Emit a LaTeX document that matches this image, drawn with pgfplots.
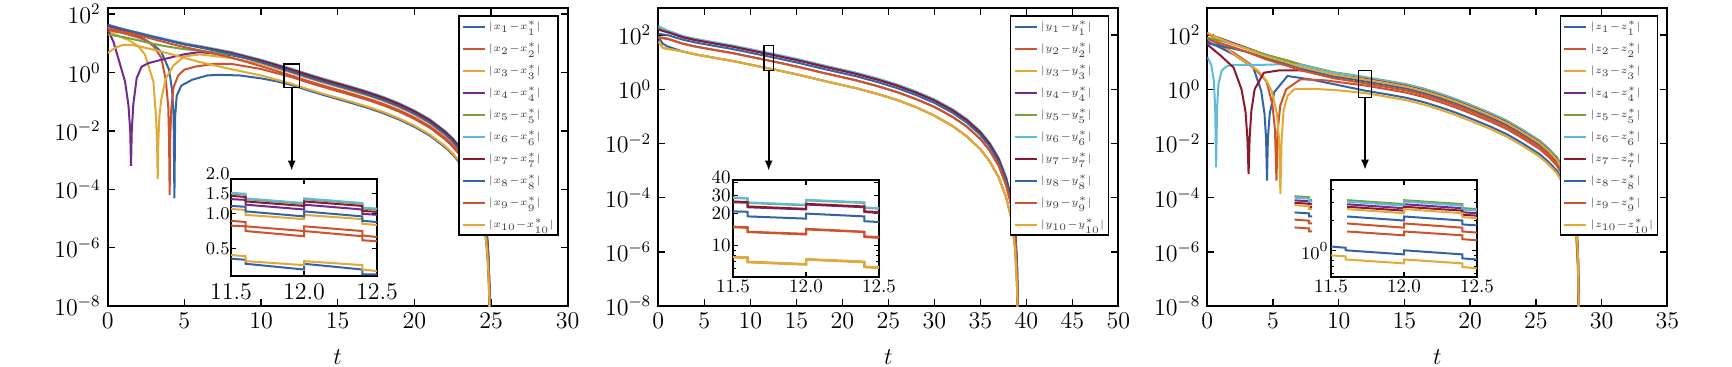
\documentclass[border=0pt]{standalone}
\usepackage{pgfplots}
\pgfplotsset{compat=1.18}
\usetikzlibrary{arrows.meta}
\definecolor{c1}{RGB}{50,100,165}
\definecolor{c2}{RGB}{205,82,45}
\definecolor{c3}{RGB}{228,168,52}
\definecolor{c4}{RGB}{115,42,140}
\definecolor{c5}{RGB}{112,165,60}
\definecolor{c6}{RGB}{95,185,225}
\definecolor{c7}{RGB}{140,25,45}
\pgfplotscreateplotcyclelist{mat}{
{c1,line width=1pt},{c2,line width=1pt},{c3,line width=1pt},{c4,line width=1pt},{c5,line width=1pt},{c6,line width=1pt},{c7,line width=1pt},{c1,line width=1pt},{c2,line width=1pt},{c3,line width=1pt}}
\pgfplotsset{legend image code/.code={\draw[#1] (0pt,0pt) -- (11pt,0pt);}}
\pgfplotsset{
 mainax/.style={scale only axis, width=230pt, height=149pt, anchor=south west, xmin=0, ymin=-8,
   axis line style={line width=0.9pt}, tick style={black, line width=0.7pt}, major tick length=3.5pt,
   tick align=inside, ticklabel style={font=\fontsize{12}{14}\selectfont},
   ytick={-8,-6,-4,-2,0,2}, yticklabels={$10^{-8}$,$10^{-6}$,$10^{-4}$,$10^{-2}$,$10^{0}$,$10^{2}$},
   xlabel={$t$}, xlabel style={font=\fontsize{12.5}{14}\selectfont, yshift=-3.5pt},
   cycle list name=mat, legend cell align=left,
   legend style={at={(1,1)}, anchor=north east, xshift=-4.5pt, yshift=-3.7pt, draw=black, line width=0.9pt, fill=white,
     font=\fontsize{5.3}{6.3}\selectfont, inner xsep=1.5pt, inner ysep=1.5pt, row sep=3.8pt,
     nodes={inner sep=0.5pt, text height=4.6pt, text depth=1.6pt, text=black!75},
     /tikz/every odd column/.style={column sep=1pt}}},
 insetax/.style={scale only axis, width=73pt, height=48.5pt, anchor=south west, xmin=11.5, xmax=12.5,
   axis background/.style={fill=white}, axis line style={line width=0.9pt}, tick style={black, line width=0.6pt},
   major tick length=2.5pt, minor tick length=1.5pt, tick align=inside,
   xtick={11.5,12,12.5}, xticklabels={11.5,12.0,12.5}, cycle list name=mat},
}
\begin{document}
\begin{tikzpicture}[x=1pt,y=1pt]
\useasboundingbox (0,0) rectangle (866,183);
% ---------------- panel 1 ----------------
\begin{axis}[mainax, at={(53.85pt,30pt)}, xmax=30, ymax=2.21, xtick={0,5,...,30},
  legend entries={$|x_1{-}x_1^*|$,$|x_2{-}x_2^*|$,$|x_3{-}x_3^*|$,$|x_4{-}x_4^*|$,$|x_5{-}x_5^*|$,$|x_6{-}x_6^*|$,$|x_7{-}x_7^*|$,$|x_8{-}x_8^*|$,$|x_9{-}x_9^*|$,$|x_{10}{-}x_{10}^*|$}]
\addplot coordinates {(0,1.55)(1,1.42)(2,1.25)(3,0.95)(3.5,0.7)(4,0.1)(4.2,-0.6)(4.3,-1.5)(4.35,-4.31)(4.4,-1.5)(4.5,-0.8)(4.8,-0.45)(5.5,-0.25)(6.5,-0.1)(7.2,-0.08)(8.6,-0.1)(10,-0.2)(11,-0.3)(12,-0.43)(13,-0.60)(14,-0.76)(15,-0.91)(16,-1.06)(17,-1.22)(18,-1.40)(19,-1.61)(20,-1.86)(21,-2.16)(22,-2.56)(22.5,-2.81)(23,-3.12)(23.5,-3.52)(24,-4.09)(24.3,-4.60)(24.5,-5.10)(24.7,-5.89)(24.8,-6.58)(24.88,-7.61)(24.93,-8.75)(24.96,-10)};
\addplot coordinates {(0,1.45)(1,1.35)(2,1.2)(2.5,1.1)(3,0.9)(3.5,0.5)(3.8,-0.3)(3.95,-1.2)(4.0,-2.2)(4.04,-4.2)(4.08,-2.2)(4.15,-1.2)(4.3,-0.5)(4.6,-0.1)(5,0.1)(5.7,0.2)(7,0.3)(8,0.3)(10,0.12)(12,-0.16)(13,-0.33)(14,-0.49)(15,-0.64)(16,-0.79)(17,-0.95)(18,-1.13)(19,-1.34)(20,-1.59)(21,-1.89)(22,-2.29)(22.5,-2.54)(23,-2.85)(23.5,-3.25)(24,-3.82)(24.3,-4.33)(24.5,-4.83)(24.7,-5.62)(24.8,-6.31)(24.88,-7.34)(24.93,-8.75)(24.96,-10)};
\addplot coordinates {(0,1.41)(0.5,1.3)(1,1.18)(1.35,1.12)(2,0.9)(2.43,0.61)(2.98,-0.31)(3.15,-1.5)(3.22,-2.4)(3.26,-3.65)(3.3,-2.4)(3.37,-1.5)(3.5,-0.9)(3.8,-0.2)(4.3,0.25)(5,0.55)(6,0.62)(8,0.5)(10,0.3)(12,-0.01)(13,-0.18)(14,-0.34)(15,-0.49)(16,-0.64)(17,-0.80)(18,-0.98)(19,-1.19)(20,-1.44)(21,-1.74)(22,-2.14)(22.5,-2.39)(23,-2.70)(23.5,-3.10)(24,-3.67)(24.3,-4.18)(24.5,-4.68)(24.7,-5.47)(24.8,-6.16)(24.88,-7.19)(24.93,-8.75)(24.96,-10)};
\addplot coordinates {(0,1.46)(0.37,1.06)(0.69,0.49)(1.13,-0.31)(1.35,-1.1)(1.47,-2.0)(1.52,-3.2)(1.57,-2.0)(1.67,-1.1)(1.89,-0.19)(2.21,0.2)(2.65,0.32)(3.52,0.44)(4.39,0.55)(5.04,0.63)(6,0.7)(8,0.6)(10,0.38)(12,0.07)(13,-0.10)(14,-0.26)(15,-0.41)(16,-0.56)(17,-0.72)(18,-0.90)(19,-1.11)(20,-1.36)(21,-1.66)(22,-2.06)(22.5,-2.31)(23,-2.62)(23.5,-3.02)(24,-3.59)(24.3,-4.10)(24.5,-4.60)(24.7,-5.39)(24.8,-6.08)(24.88,-7.11)(24.93,-8.75)(24.96,-10)};
\addplot coordinates {(0,1.3)(1,1.22)(2,1.1)(3,0.98)(4,0.88)(5,0.8)(6,0.75)(8,0.62)(10,0.4)(12,0.11)(13,-0.06)(14,-0.22)(15,-0.37)(16,-0.52)(17,-0.68)(18,-0.86)(19,-1.07)(20,-1.32)(21,-1.62)(22,-2.02)(22.5,-2.27)(23,-2.58)(23.5,-2.98)(24,-3.55)(24.3,-4.06)(24.5,-4.56)(24.7,-5.35)(24.8,-6.04)(24.88,-7.07)(24.93,-8.75)(24.96,-10)};
\addplot coordinates {(0,1.55)(1,1.48)(2,1.37)(3,1.24)(4,1.12)(5,1.0)(6,0.91)(8,0.71)(10,0.44)(12,0.13)(13,-0.04)(14,-0.20)(15,-0.35)(16,-0.50)(17,-0.66)(18,-0.84)(19,-1.05)(20,-1.30)(21,-1.60)(22,-2.00)(22.5,-2.25)(23,-2.56)(23.5,-2.96)(24,-3.53)(24.3,-4.04)(24.5,-4.54)(24.7,-5.33)(24.8,-6.02)(24.88,-7.05)(24.93,-8.75)(24.96,-10)};
\addplot coordinates {(0,1.6)(1,1.47)(2,1.34)(3,1.21)(4,1.09)(5,0.97)(6,0.88)(8,0.68)(10,0.41)(12,0.10)(13,-0.07)(14,-0.23)(15,-0.38)(16,-0.53)(17,-0.69)(18,-0.87)(19,-1.08)(20,-1.33)(21,-1.63)(22,-2.03)(22.5,-2.28)(23,-2.59)(23.5,-2.99)(24,-3.56)(24.3,-4.07)(24.5,-4.57)(24.7,-5.36)(24.8,-6.05)(24.88,-7.08)(24.93,-8.75)(24.96,-10)};
\addplot coordinates {(0,1.64)(1,1.49)(2,1.35)(3,1.22)(4,1.09)(5,0.96)(6,0.86)(8,0.64)(10,0.35)(12,0.02)(13,-0.15)(14,-0.31)(15,-0.46)(16,-0.61)(17,-0.77)(18,-0.95)(19,-1.16)(20,-1.41)(21,-1.71)(22,-2.11)(22.5,-2.36)(23,-2.67)(23.5,-3.07)(24,-3.64)(24.3,-4.15)(24.5,-4.65)(24.7,-5.44)(24.8,-6.13)(24.88,-7.16)(24.93,-8.75)(24.96,-10)};
\addplot coordinates {(0,1.5)(1,1.4)(2,1.28)(3,1.14)(4,1.0)(5,0.87)(6,0.76)(8,0.52)(10,0.22)(12,-0.11)(13,-0.28)(14,-0.44)(15,-0.59)(16,-0.74)(17,-0.90)(18,-1.08)(19,-1.29)(20,-1.54)(21,-1.84)(22,-2.24)(22.5,-2.49)(23,-2.80)(23.5,-3.20)(24,-3.77)(24.3,-4.28)(24.5,-4.78)(24.7,-5.57)(24.8,-6.26)(24.88,-7.29)(24.93,-8.75)(24.96,-10)};
\addplot coordinates {(0,0.67)(0.5,0.85)(1,0.95)(1.5,0.95)(2,0.9)(3,0.78)(4,0.65)(5,0.5)(6,0.36)(8,0.12)(10,-0.1)(12,-0.39)(13,-0.56)(14,-0.72)(15,-0.87)(16,-1.02)(17,-1.18)(18,-1.36)(19,-1.57)(20,-1.82)(21,-2.12)(22,-2.52)(22.5,-2.77)(23,-3.08)(23.5,-3.48)(24,-4.05)(24.3,-4.56)(24.5,-5.06)(24.7,-5.85)(24.8,-6.54)(24.88,-7.57)(24.93,-8.75)(24.96,-10)};
\draw[line width=0.8pt] (axis cs:11.5,-0.52) rectangle (axis cs:12.5,0.30);
\draw[line width=0.8pt,-{Latex[length=5pt,width=4pt]}] (axis cs:12,-0.52) -- (axis cs:12,-3.36);
\end{axis}
\begin{axis}[insetax, ymode=log, at={(115.5pt,45pt)}, ymin=0.29, ymax=2.0, ytick={0.5,1,1.5}, yticklabels={0.5,1.0,1.5},
  extra y ticks={2}, extra y tick labels={2.0}, extra y tick style={yticklabel style={yshift=2.5pt}},
  x tick label style={font=\fontsize{12}{14}\selectfont}, y tick label style={font=\fontsize{9}{10}\selectfont, inner sep=0.5pt}]
\addplot coordinates {(11.5,0.41)(11.6,0.40)(11.6,0.37)(12,0.33)(12,0.37)(12.4,0.33)(12.4,0.30)(12.5,0.30)};
\addplot coordinates {(11.5,0.79)(11.6,0.78)(11.6,0.71)(12,0.64)(12,0.71)(12.4,0.64)(12.4,0.59)(12.5,0.58)};
\addplot coordinates {(11.5,1.10)(11.6,1.08)(11.6,0.98)(12,0.90)(12,0.98)(12.4,0.90)(12.4,0.82)(12.5,0.80)};
\addplot coordinates {(11.5,1.34)(11.6,1.32)(11.6,1.20)(12,1.09)(12,1.20)(12.4,1.09)(12.4,1.00)(12.5,0.98)};
\addplot coordinates {(11.5,1.50)(11.6,1.47)(11.6,1.34)(12,1.22)(12,1.34)(12.4,1.22)(12.4,1.11)(12.5,1.09)};
\addplot coordinates {(11.5,1.52)(11.6,1.49)(11.6,1.36)(12,1.24)(12,1.36)(12.4,1.24)(12.4,1.13)(12.5,1.11)};
\addplot coordinates {(11.5,1.43)(11.6,1.40)(11.6,1.28)(12,1.17)(12,1.28)(12.4,1.17)(12.4,1.06)(12.5,1.04)};
\addplot coordinates {(11.5,1.17)(11.6,1.15)(11.6,1.05)(12,0.95)(12,1.05)(12.4,0.95)(12.4,0.87)(12.5,0.85)};
\addplot coordinates {(11.5,0.87)(11.6,0.85)(11.6,0.78)(12,0.71)(12,0.78)(12.4,0.71)(12.4,0.65)(12.5,0.63)};
\addplot coordinates {(11.5,0.44)(11.6,0.43)(11.6,0.39)(12,0.36)(12,0.39)(12.4,0.36)(12.4,0.33)(12.5,0.32)};
\end{axis}
% ---------------- panel 2 ----------------
\begin{axis}[mainax, at={(329.15pt,30pt)}, xmax=50, ymax=3, xtick={0,5,...,50},
  legend entries={$|y_1{-}y_1^*|$,$|y_2{-}y_2^*|$,$|y_3{-}y_3^*|$,$|y_4{-}y_4^*|$,$|y_5{-}y_5^*|$,$|y_6{-}y_6^*|$,$|y_7{-}y_7^*|$,$|y_8{-}y_8^*|$,$|y_9{-}y_9^*|$,$|y_{10}{-}y_{10}^*|$}]
\addplot coordinates {(0,1.93)(0.5,1.68)(1,1.58)(2.7,1.39)(4,1.29)(6.3,1.15)(8,1.05)(11,0.84)(13,0.70)(15.3,0.53)(18,0.31)(21.5,0.04)(24,-0.19)(26,-0.40)(28,-0.66)(30,-0.97)(32,-1.36)(33.5,-1.73)(35,-2.21)(36,-2.65)(37,-3.25)(37.8,-3.98)(38.4,-4.80)(38.8,-5.95)(39.0,-7.35)(39.1,-9.5)};
\addplot coordinates {(0,1.9)(1,1.86)(2.7,1.68)(4,1.58)(6.3,1.44)(8,1.34)(11,1.13)(13,0.99)(15.3,0.82)(18,0.60)(21.5,0.33)(24,0.10)(26,-0.11)(28,-0.36)(30,-0.65)(32,-1.02)(33.5,-1.37)(35,-1.83)(36,-2.25)(37,-2.82)(37.8,-3.53)(38.4,-4.33)(38.8,-5.48)(39.0,-6.88)(39.1,-9.5)};
\addplot coordinates {(0,1.78)(0.5,1.53)(1,1.5)(2.7,1.39)(4,1.29)(6.3,1.15)(8,1.05)(11,0.84)(13,0.70)(15.3,0.53)(18,0.31)(21.5,0.04)(24,-0.19)(26,-0.40)(28,-0.66)(30,-0.97)(32,-1.36)(33.5,-1.73)(35,-2.21)(36,-2.65)(37,-3.25)(37.8,-3.98)(38.4,-4.80)(38.8,-5.95)(39.0,-7.35)(39.1,-9.5)};
\addplot coordinates {(0,2.22)(1,2.11)(2.7,1.92)(4,1.82)(6.3,1.68)(8,1.58)(11,1.37)(13,1.23)(15.3,1.06)(18,0.84)(21.5,0.57)(24,0.34)(26,0.13)(28,-0.12)(30,-0.41)(32,-0.78)(33.5,-1.13)(35,-1.59)(36,-2.01)(37,-2.58)(37.8,-3.29)(38.4,-4.09)(38.8,-5.24)(39.0,-6.64)(39.1,-9.5)};
\addplot coordinates {(0,2.28)(1,2.16)(2.7,1.95)(4,1.85)(6.3,1.71)(8,1.61)(11,1.40)(13,1.26)(15.3,1.09)(18,0.87)(21.5,0.60)(24,0.37)(26,0.16)(28,-0.09)(30,-0.38)(32,-0.75)(33.5,-1.10)(35,-1.56)(36,-1.98)(37,-2.55)(37.8,-3.26)(38.4,-4.06)(38.8,-5.21)(39.0,-6.61)(39.1,-9.5)};
\addplot coordinates {(0,2.33)(1,2.17)(2.7,1.96)(4,1.86)(6.3,1.72)(8,1.62)(11,1.41)(13,1.27)(15.3,1.10)(18,0.88)(21.5,0.61)(24,0.38)(26,0.17)(28,-0.08)(30,-0.37)(32,-0.74)(33.5,-1.09)(35,-1.55)(36,-1.97)(37,-2.54)(37.8,-3.25)(38.4,-4.05)(38.8,-5.2)(39.0,-6.6)(39.1,-9.5)};
\addplot coordinates {(0,2.2)(1,2.11)(2.7,1.92)(4,1.82)(6.3,1.68)(8,1.58)(11,1.37)(13,1.23)(15.3,1.06)(18,0.84)(21.5,0.57)(24,0.34)(26,0.13)(28,-0.12)(30,-0.41)(32,-0.78)(33.5,-1.13)(35,-1.59)(36,-2.01)(37,-2.58)(37.8,-3.29)(38.4,-4.09)(38.8,-5.24)(39.0,-6.64)(39.1,-9.5)};
\addplot coordinates {(0,2.05)(1,2.0)(2.7,1.83)(4,1.73)(6.3,1.59)(8,1.49)(11,1.28)(13,1.14)(15.3,0.97)(18,0.75)(21.5,0.48)(24,0.25)(26,0.04)(28,-0.21)(30,-0.50)(32,-0.87)(33.5,-1.22)(35,-1.68)(36,-2.10)(37,-2.67)(37.8,-3.38)(38.4,-4.18)(38.8,-5.33)(39.0,-6.73)(39.1,-9.5)};
\addplot coordinates {(0,1.93)(1,1.87)(2.7,1.68)(4,1.58)(6.3,1.44)(8,1.34)(11,1.13)(13,0.99)(15.3,0.82)(18,0.60)(21.5,0.33)(24,0.10)(26,-0.11)(28,-0.36)(30,-0.65)(32,-1.02)(33.5,-1.37)(35,-1.83)(36,-2.25)(37,-2.82)(37.8,-3.53)(38.4,-4.33)(38.8,-5.48)(39.0,-6.88)(39.1,-9.5)};
\addplot coordinates {(0,1.75)(0.5,1.52)(1,1.49)(2.7,1.39)(4,1.29)(6.3,1.15)(8,1.05)(11,0.84)(13,0.70)(15.3,0.53)(18,0.31)(21.5,0.04)(24,-0.19)(26,-0.40)(28,-0.66)(30,-0.97)(32,-1.36)(33.5,-1.73)(35,-2.21)(36,-2.65)(37,-3.25)(37.8,-3.98)(38.4,-4.80)(38.8,-5.95)(39.0,-7.35)(39.1,-9.5)};
\draw[line width=0.8pt] (axis cs:11.5,0.70) rectangle (axis cs:12.5,1.62);
\draw[line width=0.8pt,-{Latex[length=5pt,width=4pt]}] (axis cs:12,0.70) -- (axis cs:12,-3.0);
\end{axis}
\begin{axis}[insetax, ymode=log, at={(366.5pt,44.5pt)}, ymin=5, ymax=42, ytick={10,20,30}, yticklabels={10,20,30},
  extra y ticks={40}, extra y tick labels={40}, extra y tick style={yticklabel style={yshift=2.5pt}},
  minor ytick={6,7,8,9}, ticklabel style={font=\fontsize{9.5}{11}\selectfont, inner sep=1pt}]
\addplot coordinates {(11.5,7.75)(11.6,7.66)(11.6,6.95)(12,6.6)(12,7.37)(12.4,6.95)(12.4,6.24)(12.5,6.14)};
\addplot coordinates {(11.5,14.9)(11.6,14.7)(11.6,13.4)(12,12.7)(12,14.2)(12.4,13.4)(12.4,12.0)(12.5,11.8)};
\addplot coordinates {(11.5,7.8)(11.6,7.7)(11.6,7.0)(12,6.65)(12,7.4)(12.4,7.0)(12.4,6.3)(12.5,6.2)};
\addplot coordinates {(11.5,25.8)(11.6,25.5)(11.6,23.1)(12,22.0)(12,24.5)(12.4,23.1)(12.4,20.8)(12.5,20.4)};
\addplot coordinates {(11.5,28.3)(11.6,28.0)(11.6,25.4)(12,24.1)(12,26.9)(12.4,25.4)(12.4,22.8)(12.5,22.4)};
\addplot coordinates {(11.5,28.6)(11.6,28.3)(11.6,25.7)(12,24.4)(12,27.2)(12.4,25.7)(12.4,23.0)(12.5,22.7)};
\addplot coordinates {(11.5,26.2)(11.6,25.9)(11.6,23.5)(12,22.3)(12,24.9)(12.4,23.5)(12.4,21.1)(12.5,20.8)};
\addplot coordinates {(11.5,21.1)(11.6,20.9)(11.6,18.9)(12,18.0)(12,20.1)(12.4,18.9)(12.4,17.0)(12.5,16.7)};
\addplot coordinates {(11.5,15.1)(11.6,14.9)(11.6,13.5)(12,12.9)(12,14.4)(12.4,13.5)(12.4,12.2)(12.5,12.0)};
\addplot coordinates {(11.5,7.7)(11.6,7.6)(11.6,6.9)(12,6.57)(12,7.32)(12.4,6.9)(12.4,6.2)(12.5,6.1)};
\end{axis}
% ---------------- panel 3 ----------------
\begin{axis}[mainax, at={(603.65pt,30pt)}, xmax=35, ymax=3, xtick={0,5,...,35},
  legend entries={$|z_1{-}z_1^*|$,$|z_2{-}z_2^*|$,$|z_3{-}z_3^*|$,$|z_4{-}z_4^*|$,$|z_5{-}z_5^*|$,$|z_6{-}z_6^*|$,$|z_7{-}z_7^*|$,$|z_8{-}z_8^*|$,$|z_9{-}z_9^*|$,$|z_{10}{-}z_{10}^*|$}]
\addplot coordinates {(0,1.77)(1,1.53)(2,1.29)(3.5,0.8)(4.1,-0.06)(4.35,-0.9)(4.47,-1.8)(4.54,-3.37)(4.61,-1.8)(4.75,-0.9)(5.1,-0.1)(6.1,0.49)(8,0.35)(10,0.15)(11,0.05)(12,-0.05)(13.6,-0.18)(15.2,-0.32)(16.5,-0.48)(17.7,-0.66)(19,-0.88)(20.2,-1.11)(21.5,-1.37)(22.8,-1.66)(24,-2.00)(25.3,-2.40)(26,-2.70)(26.6,-3.01)(27.1,-3.43)(27.6,-3.99)(27.8,-4.40)(28.0,-4.97)(28.1,-5.60)(28.2,-6.57)(28.3,-9.5)};
\addplot coordinates {(0,1.9)(1,1.62)(2,1.35)(3.3,0.92)(4.5,0.3)(4.95,-0.55)(5.15,-1.5)(5.26,-3.37)(5.36,-1.5)(5.55,-0.6)(6,0.0)(7.1,0.37)(9,0.33)(11,0.2)(12,0.14)(13.6,0.01)(15.2,-0.13)(16.5,-0.29)(17.7,-0.47)(19,-0.69)(20.2,-0.92)(21.5,-1.18)(22.8,-1.47)(24,-1.81)(25.3,-2.21)(26,-2.51)(26.6,-2.82)(27.1,-3.24)(27.6,-3.80)(27.8,-4.21)(28.0,-4.78)(28.1,-5.41)(28.2,-6.38)(28.3,-9.5)};
\addplot coordinates {(0,2.08)(1,1.7)(2,1.3)(3,0.98)(3.9,0.67)(4.5,0.32)(4.9,-0.06)(5.3,-0.9)(5.46,-1.9)(5.56,-3.86)(5.65,-1.9)(5.8,-0.8)(6.1,-0.25)(6.6,0.0)(8,0.02)(10,-0.04)(11,-0.09)(12,-0.14)(13.6,-0.27)(15.2,-0.41)(16.5,-0.57)(17.7,-0.75)(19,-0.97)(20.2,-1.20)(21.5,-1.46)(22.8,-1.75)(24,-2.09)(25.3,-2.49)(26,-2.79)(26.6,-3.10)(27.1,-3.52)(27.6,-4.08)(27.8,-4.49)(28.0,-5.06)(28.1,-5.69)(28.2,-6.66)(28.3,-9.5)};
\addplot coordinates {(0,2.05)(1,1.88)(2,1.70)(3,1.53)(4.5,1.26)(6,1.06)(7.1,0.89)(8.5,0.73)(9.6,0.59)(11,0.49)(12,0.41)(13.6,0.28)(15.2,0.14)(16.5,-0.02)(17.7,-0.20)(19,-0.42)(20.2,-0.65)(21.5,-0.91)(22.8,-1.20)(24,-1.54)(25.3,-1.94)(26,-2.24)(26.6,-2.55)(27.1,-2.97)(27.6,-3.53)(27.8,-3.94)(28.0,-4.51)(28.1,-5.14)(28.2,-6.11)(28.3,-9.5)};
\addplot coordinates {(0,1.9)(1,1.8)(2,1.66)(3,1.52)(4.5,1.27)(6,1.08)(7.1,0.92)(8.5,0.76)(9.6,0.63)(11,0.53)(12,0.45)(13.6,0.32)(15.2,0.18)(16.5,0.02)(17.7,-0.16)(19,-0.38)(20.2,-0.61)(21.5,-0.87)(22.8,-1.16)(24,-1.50)(25.3,-1.90)(26,-2.20)(26.6,-2.51)(27.1,-2.93)(27.6,-3.49)(27.8,-3.90)(28.0,-4.47)(28.1,-5.10)(28.2,-6.07)(28.3,-9.5)};
\addplot coordinates {(0,1.19)(0.3,0.9)(0.5,0.3)(0.6,-0.7)(0.67,-2.88)(0.74,-0.7)(0.85,0.2)(1.1,0.7)(1.5,0.86)(2,0.9)(4,0.9)(5.5,0.92)(7.1,0.9)(8.5,0.74)(9.6,0.61)(11,0.51)(12,0.43)(13.6,0.30)(15.2,0.16)(16.5,0.00)(17.7,-0.18)(19,-0.40)(20.2,-0.63)(21.5,-0.89)(22.8,-1.18)(24,-1.52)(25.3,-1.92)(26,-2.22)(26.6,-2.53)(27.1,-2.95)(27.6,-3.51)(27.8,-3.92)(28.0,-4.49)(28.1,-5.12)(28.2,-6.09)(28.3,-9.5)};
\addplot coordinates {(0,1.65)(1,1.25)(2,0.8)(2.6,0.0)(2.9,-0.8)(3.05,-1.8)(3.14,-3.13)(3.22,-1.8)(3.35,-0.8)(3.6,0.0)(4.3,0.61)(5.5,0.7)(7.1,0.7)(8.5,0.62)(9.6,0.52)(11,0.44)(12,0.38)(13.6,0.25)(15.2,0.11)(16.5,-0.05)(17.7,-0.23)(19,-0.45)(20.2,-0.68)(21.5,-0.94)(22.8,-1.23)(24,-1.57)(25.3,-1.97)(26,-2.27)(26.6,-2.58)(27.1,-3.00)(27.6,-3.56)(27.8,-3.97)(28.0,-4.54)(28.1,-5.17)(28.2,-6.14)(28.3,-9.5)};
\addplot coordinates {(0,1.7)(1,1.6)(2,1.5)(3,1.38)(4.5,1.15)(6,0.95)(7.1,0.78)(8.5,0.61)(9.6,0.47)(11,0.37)(12,0.29)(13.6,0.16)(15.2,0.02)(16.5,-0.14)(17.7,-0.32)(19,-0.54)(20.2,-0.77)(21.5,-1.03)(22.8,-1.32)(24,-1.66)(25.3,-2.06)(26,-2.36)(26.6,-2.67)(27.1,-3.09)(27.6,-3.65)(27.8,-4.06)(28.0,-4.63)(28.1,-5.26)(28.2,-6.23)(28.3,-9.5)};
\addplot coordinates {(0,1.85)(1,1.7)(2,1.55)(3,1.38)(4.5,1.1)(6,0.88)(7.1,0.7)(8.5,0.54)(9.6,0.41)(11,0.3)(12,0.22)(13.6,0.09)(15.2,-0.05)(16.5,-0.21)(17.7,-0.39)(19,-0.61)(20.2,-0.84)(21.5,-1.10)(22.8,-1.39)(24,-1.73)(25.3,-2.13)(26,-2.43)(26.6,-2.74)(27.1,-3.16)(27.6,-3.72)(27.8,-4.13)(28.0,-4.70)(28.1,-5.33)(28.2,-6.30)(28.3,-9.5)};
\addplot coordinates {(0,2.08)(1,1.86)(2,1.66)(3,1.48)(4.5,1.21)(6,1.0)(7.1,0.83)(8.5,0.67)(9.6,0.54)(11,0.44)(12,0.36)(13.6,0.23)(15.2,0.09)(16.5,-0.07)(17.7,-0.25)(19,-0.47)(20.2,-0.70)(21.5,-0.96)(22.8,-1.25)(24,-1.59)(25.3,-1.99)(26,-2.29)(26.6,-2.60)(27.1,-3.02)(27.6,-3.58)(27.8,-3.99)(28.0,-4.56)(28.1,-5.19)(28.2,-6.16)(28.3,-9.5)};
\draw[line width=0.8pt] (axis cs:11.5,-0.30) rectangle (axis cs:12.5,0.70);
\draw[line width=0.8pt,-{Latex[length=5pt,width=4pt]}] (axis cs:12,-0.30) -- (axis cs:12,-2.97);
\end{axis}
\begin{axis}[insetax, ymode=log, at={(665.5pt,44.5pt)}, ymin=0.55, ymax=5, ytick={1}, yticklabels={$10^0$},
  minor ytick={0.6,0.7,0.8,0.9,2,3,4}, ticklabel style={font=\fontsize{9.5}{11}\selectfont, inner sep=1pt}, clip=false]
\addplot coordinates {(11.5,1.10)(11.6,1.07)(11.6,1.01)(12,0.92)(12,1.01)(12.4,0.92)(12.4,0.84)(12.5,0.82)};
\addplot coordinates {(11.61,1.55)(12,1.42)(12,1.55)(12.4,1.42)(12.4,1.30)(12.5,1.27)};
\addplot coordinates {(11.5,0.90)(11.6,0.88)(11.6,0.82)(12,0.75)(12,0.82)(12.4,0.75)(12.4,0.69)(12.5,0.67)};
\addplot coordinates {(11.61,2.88)(12,2.63)(12,2.88)(12.4,2.63)(12.4,2.40)(12.5,2.35)};
\addplot coordinates {(11.61,3.16)(12,2.89)(12,3.16)(12.4,2.89)(12.4,2.64)(12.5,2.58)};
\addplot coordinates {(11.61,3.06)(12,2.79)(12,3.06)(12.4,2.79)(12.4,2.55)(12.5,2.50)};
\addplot coordinates {(11.61,2.72)(12,2.49)(12,2.72)(12.4,2.49)(12.4,2.27)(12.5,2.22)};
\addplot coordinates {(11.61,2.18)(12,1.99)(12,2.18)(12.4,1.99)(12.4,1.82)(12.5,1.78)};
\addplot coordinates {(11.61,1.86)(12,1.69)(12,1.86)(12.4,1.69)(12.4,1.55)(12.5,1.51)};
\addplot coordinates {(11.61,2.58)(12,2.35)(12,2.58)(12.4,2.35)(12.4,2.15)(12.5,2.10)};
\addplot[c2,line width=1pt,forget plot] coordinates {(11.25,1.70)(11.35,1.66)(11.35,1.55)(11.37,1.55)};
\addplot[c4,line width=1pt,forget plot] coordinates {(11.25,3.15)(11.35,3.08)(11.35,2.88)(11.37,2.88)};
\addplot[c5,line width=1pt,forget plot] coordinates {(11.25,3.46)(11.35,3.38)(11.35,3.16)(11.37,3.16)};
\addplot[c6,line width=1pt,forget plot] coordinates {(11.25,3.35)(11.35,3.27)(11.35,3.06)(11.37,3.06)};
\addplot[c7,line width=1pt,forget plot] coordinates {(11.25,2.98)(11.35,2.91)(11.35,2.72)(11.37,2.72)};
\addplot[c1,line width=1pt,forget plot] coordinates {(11.25,2.39)(11.35,2.34)(11.35,2.18)(11.37,2.18)};
\addplot[c2,line width=1pt,forget plot] coordinates {(11.25,2.03)(11.35,1.98)(11.35,1.86)(11.37,1.86)};
\addplot[c3,line width=1pt,forget plot] coordinates {(11.25,2.82)(11.35,2.76)(11.35,2.58)(11.37,2.58)};
\end{axis}
\end{tikzpicture}
\end{document}
